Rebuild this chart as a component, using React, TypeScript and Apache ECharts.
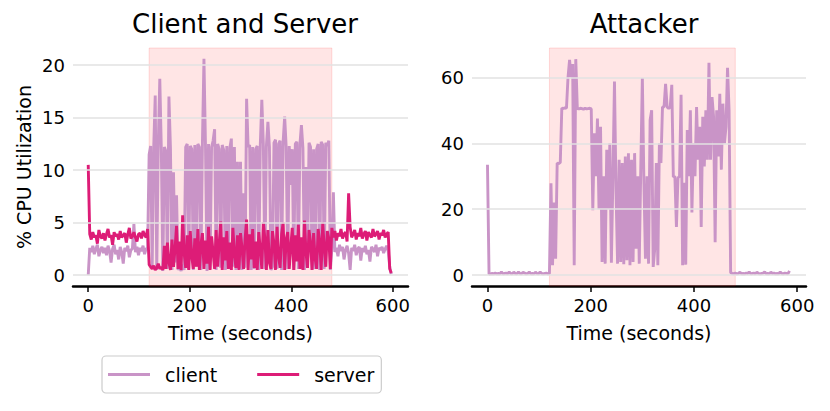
import React, { useEffect, useRef } from 'react';
import * as echarts from 'echarts';

// sample spacing (seconds) of the recorded CPU values
const STEP = 3;

// Client and Server panel: % CPU utilization, one value every 3 s from t = 0
const clientCpu = [
  0,
  2.6, 2.2, 2.8, 2.0, 2.5, 2.9, 1.8, 2.4, 2.7,
  2.1, 2.6, 1.9, 2.8, 2.3, 1.2, 2.5, 2.9, 2.0, 2.4,
  1.5, 2.7, 2.2, 1.1, 2.6, 2.3, 2.8, 1.7, 2.4, 2.5,
  4.9, 2.2, 2.7, 1.9, 2.6, 2.3, 2.8, 2.0, 2.5, 2.6,
  11.5, 12.3, 0.8, 12.1, 17.1, 0.5, 12.4, 18.7, 12.0, 0.4,
  12.2, 11.8, 0.6, 17.0, 12.1, 0.5, 9.8, 1.2, 7.6, 0.5,
  0.8, 0.4, 1.0, 0.5, 12.2, 12.5, 0.6, 12.3, 12.0, 0.5,
  12.4, 0.8, 12.5, 12.2, 0.5, 12.6, 20.6, 12.4, 0.4, 12.5,
  0.6, 12.2, 12.8, 13.9, 0.5, 12.5, 12.0, 0.7, 12.4, 11.9,
  0.5, 12.3, 0.6, 12.1, 13.0, 0.8, 12.2, 0.5, 10.8, 0.6,
  10.8, 0.5, 7.8, 0.7, 16.8, 12.2, 12.4, 0.5, 12.2, 0.6,
  12.0, 12.3, 0.5, 12.4, 16.7, 12.5, 0.6, 12.3, 14.6, 12.2,
  0.5, 0.8, 12.6, 12.9, 0.6, 12.5, 12.8, 0.5, 12.7, 15.1,
  12.2, 0.6, 12.3, 8.6, 12.0, 0.5, 12.5, 12.7, 0.6, 12.4,
  14.3, 12.1, 0.5, 10.3, 0.7, 12.6, 12.2, 0.5, 12.0, 0.6,
  12.0, 12.5, 0.5, 12.7, 12.4, 0.6, 12.6, 12.3, 12.8, 0.5,
  2.5, 7.9, 2.2, 2.6, 1.8, 2.9, 2.3, 2.7, 1.5, 2.4,
  2.8, 2.1, 0.5, 2.6, 2.3, 2.9, 1.9, 2.5, 2.7, 1.4,
  2.6, 2.2, 2.8, 2.0, 2.4, 1.3, 2.7, 2.5, 2.2, 2.9,
  1.8, 2.6, 2.4, 2.7, 2.1, 2.5, 2.8, 2.3, 0.8, 0.1,
];

const serverCpu = [
  10.5,
  3.9, 3.4, 4.1, 3.6, 3.8, 3.0, 4.3, 3.7, 3.5,
  4.0, 3.3, 3.9, 4.4, 3.6, 3.8, 2.9, 4.1, 3.7, 3.9,
  3.4, 4.2, 3.6, 3.8, 4.0, 3.1, 3.9, 4.5, 3.5, 3.7,
  4.1, 3.6, 3.2, 3.9, 4.0, 3.5, 4.2, 3.8, 3.6, 4.4,
  1.0, 0.8, 0.6, 0.9, 0.5, 0.7, 1.1, 0.6, 0.8, 0.5,
  2.8, 0.6, 3.1, 1.2, 0.5, 3.4, 0.8, 2.5, 4.7, 0.6,
  3.2, 0.5, 5.7, 2.1, 0.7, 3.8, 0.5, 4.2, 1.8, 0.6,
  3.5, 0.8, 4.4, 0.5, 2.9, 4.0, 0.6, 3.3, 1.1, 4.6,
  0.5, 3.7, 2.2, 0.6, 4.3, 0.8, 3.0, 5.1, 0.5, 3.6,
  1.4, 4.2, 0.6, 3.1, 0.5, 4.5, 2.0, 0.7, 3.8, 0.5,
  4.0, 2.6, 0.6, 3.4, 5.3, 0.5, 3.9, 1.5, 4.4, 0.7,
  3.2, 0.5, 4.1, 2.4, 0.6, 5.0, 3.5, 0.5, 4.3, 1.2,
  0.6, 4.2, 3.0, 0.5, 4.6, 1.8, 0.7, 3.9, 5.0, 0.5,
  3.4, 4.1, 0.6, 2.7, 4.5, 0.5, 3.8, 1.3, 4.8, 0.6,
  3.6, 0.5, 5.2, 2.2, 0.7, 4.3, 3.1, 0.5, 4.0, 1.6,
  0.6, 4.4, 3.2, 0.5, 5.0, 2.6, 0.8, 4.2, 3.5, 0.6,
  4.5, 3.6, 4.2, 3.3, 4.0, 3.7, 4.4, 3.5, 3.9, 4.1,
  3.2, 7.8, 4.6, 3.6, 3.9, 4.3, 3.4, 4.0, 3.7, 4.5,
  3.5, 3.9, 4.2, 3.3, 4.1, 3.8, 3.6, 4.4, 3.7, 3.9,
  4.2, 3.4, 4.0, 3.8, 4.3, 3.6, 3.9, 4.1, 0.6, 0.2,
];

// Attacker panel: % CPU utilization, one value every 3 s from t = 0
const attackerCpu = [
  33.5,
  0.3, 0.4, 0.5, 0.4, 0.6, 0.4, 0.5, 0.4, 1.0, 0.4,
  0.5, 0.6, 0.4, 1.0, 0.5, 0.4, 0.9, 0.5, 0.4, 1.0,
  0.5, 0.4, 0.9, 0.6, 0.4, 0.5, 1.0, 0.4, 0.5, 0.4,
  0.9, 0.5, 0.4, 1.0, 0.5, 0.4, 0.5, 0.6, 0.4,
  0.5, 27.9, 3.0, 22.0, 5.0, 34.0, 33.8, 34.2, 50.7, 50.5,
  50.8, 50.6, 60.0, 65.3, 60.0, 64.0, 3.0, 65.5, 50.5, 50.4,
  50.6, 50.5, 50.3, 50.6, 50.4, 50.5, 50.6, 50.4, 19.7, 43.0,
  30.0, 47.5, 20.0, 45.0, 4.0, 30.0, 3.5, 38.0, 20.0, 40.0,
  3.8, 30.0, 58.7, 25.0, 3.5, 35.0, 4.0, 34.0, 3.3, 36.0,
  4.5, 37.0, 3.0, 35.0, 4.0, 37.0, 8.0, 30.0, 3.5, 33.0,
  59.8, 28.0, 5.0, 30.0, 3.5, 47.0, 50.0, 2.5, 8.0, 34.0,
  3.0, 40.0, 34.0, 51.0, 51.0, 58.0, 51.0, 50.5, 51.0, 57.7,
  29.8, 30.0, 14.6, 29.5, 30.0, 54.7, 3.0, 28.0, 3.2, 44.0,
  30.0, 50.0, 19.0, 40.0, 30.0, 51.0, 35.0, 45.0, 14.6, 48.0,
  33.0, 50.0, 35.0, 64.4, 35.0, 54.0, 48.0, 10.0, 50.0, 36.0,
  55.0, 32.0, 52.0, 40.0, 45.0, 62.9, 50.0, 0.8,
  0.5, 0.4, 0.6, 0.4, 0.5, 0.9, 0.4, 0.5, 0.4, 0.6,
  0.5, 1.0, 0.4, 0.5, 0.6, 0.4, 0.9, 0.5, 0.4, 0.5,
  0.6, 1.0, 0.4, 0.5, 0.4, 0.9, 0.5, 0.6, 0.4, 0.5,
  0.4, 1.0, 0.5, 0.4, 0.6, 0.5, 0.4, 1.3,
];

const xTicks = [0, 200, 400, 600];
const leftYTicks = [0, 5, 10, 15, 20];
const rightYTicks = [0, 20, 40, 60];
const attackWindow = [120, 480];

const CLIENT = '#c994c7';
const SERVER = '#dd1c77';
const FONT = 'DejaVu Sans';

export default function App() {
  const ref = useRef<HTMLDivElement>(null);

  useEffect(() => {
    document.body.style.margin = '0';
    const chart = echarts.init(ref.current as HTMLDivElement, null, { renderer: 'svg' });
    const toPts = (arr: number[]) => arr.map((v, i) => [i * STEP, v]);

    const xAxis = (gridIndex: number, max: number) => ({
      type: 'value',
      gridIndex,
      min: -30,
      max,
      axisLine: { show: true, onZero: false, lineStyle: { color: '#000', width: 2.5 } },
      axisTick: { show: true, length: 6, lineStyle: { color: '#000', width: 1.5 }, customValues: xTicks },
      axisLabel: { customValues: xTicks, fontSize: 18, color: '#000', margin: 10, fontFamily: FONT },
      splitLine: { show: false },
      name: 'Time (seconds)',
      nameLocation: 'middle',
      nameGap: 37,
      nameTextStyle: { fontSize: 19, color: '#000', fontFamily: FONT },
    });

    const yAxis = (gridIndex: number, min: number, max: number, ticks: number[], name: string) => ({
      type: 'value',
      gridIndex,
      min,
      max,
      axisLine: { show: false, onZero: false },
      axisTick: { show: false },
      splitLine: { show: false },
      axisLabel: { customValues: ticks, fontSize: 18, color: '#000', margin: 8, fontFamily: FONT },
      name,
      nameLocation: 'middle',
      nameGap: 40,
      nameTextStyle: { fontSize: 19, color: '#000', fontFamily: FONT },
    });

    const gridLines = (idx: number, ticks: number[]) => ({
      type: 'line',
      name: 'grid' + idx,
      xAxisIndex: idx,
      yAxisIndex: idx,
      data: [],
      silent: true,
      z: 1,
      markLine: {
        silent: true,
        symbol: ['none', 'none'],
        label: { show: false },
        lineStyle: { color: '#e2e2e2', width: 1.6, type: 'solid' },
        data: ticks.map((v) => ({ yAxis: v })),
      },
    });

    const shade = (idx: number) => ({
      type: 'line',
      name: 'shade' + idx,
      xAxisIndex: idx,
      yAxisIndex: idx,
      data: [],
      silent: true,
      z: 2,
      markArea: {
        silent: true,
        itemStyle: { color: 'rgba(255,0,0,0.1)', borderColor: 'rgba(255,0,0,0.13)', borderWidth: 1 },
        data: [[{ xAxis: attackWindow[0] }, { xAxis: attackWindow[1] }]],
      },
    });

    const line = (name: string, idx: number, arr: number[], color: string, z: number) => ({
      type: 'line',
      name,
      xAxisIndex: idx,
      yAxisIndex: idx,
      data: toPts(arr),
      showSymbol: false,
      symbol: 'none',
      z,
      lineStyle: { color, width: 2.9 },
      itemStyle: { color },
    });

    chart.setOption({
      animation: false,
      textStyle: { fontFamily: FONT },
      title: [
        { text: 'Client and Server', left: 240, top: 6, textAlign: 'center', textStyle: { fontSize: 26, fontWeight: 'normal', color: '#000', fontFamily: FONT } },
        { text: 'Attacker', left: 639, top: 6, textAlign: 'center', textStyle: { fontSize: 26, fontWeight: 'normal', color: '#000', fontFamily: FONT } },
      ],
      legend: {
        data: ['client', 'server'],
        left: 102,
        top: 356,
        icon: 'rect',
        itemWidth: 42,
        itemHeight: 3,
        itemGap: 40,
        padding: [9, 7, 9, 6],
        borderColor: '#cccccc',
        borderWidth: 1.2,
        borderRadius: 4,
        backgroundColor: '#ffffff',
        textStyle: { fontSize: 19, color: '#000', fontFamily: FONT, padding: [0, 0, 0, 10] },
      },
      grid: [
        { left: 73, top: 48, width: 335, height: 238 },
        { left: 472, top: 48, width: 334, height: 238 },
      ],
      xAxis: [xAxis(0, 630), xAxis(1, 617)],
      yAxis: [
        yAxis(0, -1.03, 21.63, leftYTicks, '% CPU Utilization'),
        yAxis(1, -3.28, 68.88, rightYTicks, ''),
      ],
      series: [
        gridLines(0, leftYTicks),
        gridLines(1, rightYTicks),
        shade(0),
        shade(1),
        line('client', 0, clientCpu, CLIENT, 3),
        line('server', 0, serverCpu, SERVER, 4),
        line('attacker', 1, attackerCpu, CLIENT, 3),
      ],
    });

    return () => chart.dispose();
  }, []);

  return <div ref={ref} style={{ position: 'absolute', left: 0, top: 0, width: 830, height: 411 }} />;
}
